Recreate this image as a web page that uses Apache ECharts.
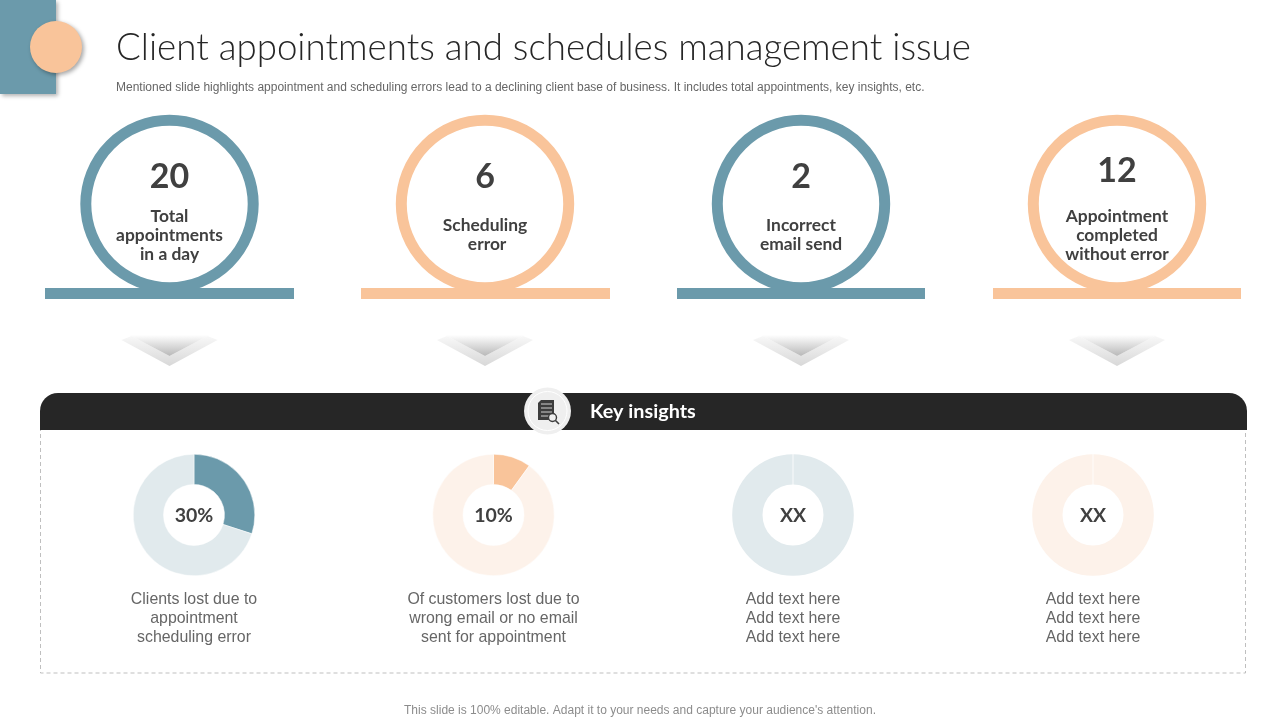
<!DOCTYPE html>
<html><head><meta charset="utf-8">
<style>html,body{margin:0;padding:0;background:#fff}#c{width:1280px;height:720px}</style>
<script src="https://cdn.jsdelivr.net/npm/echarts@6/dist/echarts.min.js"></script>
</head><body><div id="c"></div>
<script>
const TEAL='#6b9aab', PEACH='#f9c49a', TEAL_L='#e1eaed', PEACH_L='#fdf2ea';
const titleText='Client appointments and schedules management issue';
const subtitleText='Mentioned slide highlights appointment and scheduling errors lead to a declining client base of business. It includes total appointments, key insights, etc.';
const footerText="This slide is 100% editable. Adapt it to your needs and capture your audience's attention.";
const kpiValues=['20','6','2','12'];
const kpiLabels=['Total\nappointments\nin a day','Scheduling\n error','Incorrect\nemail send','Appointment\ncompleted\nwithout error'];
const kpiCenters=[169.5,485,801,1117];
const kpiValueY=[177,177,177,171];
const kpiLabelY=[235,234.5,234.5,235];
const donutCenterX=[194,493.5,793,1093];
const donutShares=[30,10,100,100];
const donutLabels=['30%','10%','XX','XX'];
const insightTexts=['Clients lost due to\nappointment\nscheduling error','Of customers lost due to\nwrong email or no email\nsent for appointment','Add text here\nAdd text here\nAdd text here','Add text here\nAdd text here\nAdd text here'];
const HEAD='"Lato","Open Sans",sans-serif', BODY='"Liberation Sans",Arial,sans-serif';

const g=[];
// corner decoration
g.push({type:'rect',shape:{x:0,y:0,width:56,height:94},style:{fill:TEAL,shadowBlur:4,shadowColor:'rgba(0,0,0,.3)',shadowOffsetX:2,shadowOffsetY:2}});
g.push({type:'circle',shape:{cx:56,cy:47,r:26},style:{fill:PEACH,shadowBlur:4,shadowColor:'rgba(0,0,0,.35)',shadowOffsetX:2,shadowOffsetY:2}});
g.push({type:'text',x:116,y:48,style:{text:titleText,font:'300 36.7px '+HEAD,fill:'#262626',textVerticalAlign:'middle'}});
g.push({type:'text',x:116,y:87.5,style:{text:subtitleText,font:'12px '+BODY,fill:'#666',textVerticalAlign:'middle'}});
// KPI rings
kpiCenters.forEach((cx,i)=>{
  const col=i%2?PEACH:TEAL;
  g.push({type:'circle',shape:{cx:cx,cy:204,r:83.7},style:{fill:'#fff',stroke:col,lineWidth:11}});
  g.push({type:'rect',shape:{x:Math.round(cx-124.5),y:288,width:i>=2?248:249,height:11},style:{fill:col}});
  g.push({type:'text',x:cx,y:kpiValueY[i],style:{text:kpiValues[i],font:'bold 34px '+HEAD,fill:'#404040',align:'center',verticalAlign:'middle'}});
  g.push({type:'text',x:cx,y:kpiLabelY[i],style:{text:kpiLabels[i],font:'bold 17.4px '+HEAD,lineHeight:19,fill:'#404040',align:'center',verticalAlign:'middle'}});
  // chevrons
  const grad=(a,b)=>({type:'linear',x:0,y:0,x2:0,y2:1,colorStops:[{offset:0,color:a},{offset:1,color:b}]});
  g.push({type:'polygon',shape:{points:[[cx-48,340],[cx,366],[cx+48,340],[cx+38,336],[cx,356],[cx-38,336]]},style:{fill:grad('#f8f8f8','#d8d8d8')}});
  g.push({type:'polygon',shape:{points:[[cx-40,335],[cx+40,335],[cx,356]]},style:{fill:grad('#ffffff','#b8b8b8')}});
});
// insight panel
g.push({type:'rect',shape:{x:40.5,y:420,width:1205,height:253},style:{fill:'#fff',stroke:'#bfbfbf',lineWidth:1,lineDash:[4,3]}});
g.push({type:'rect',shape:{x:40,y:393,width:1207,height:37,r:[18,18,0,0]},style:{fill:'#262626'}});
g.push({type:'circle',shape:{cx:547.5,cy:411,r:23.5},style:{fill:'#efefef'}});
g.push({type:'circle',shape:{cx:547.5,cy:411,r:19.5},style:{fill:'#efefef',stroke:'#fff',lineWidth:1}});
g.push({type:'polygon',shape:{points:[[541,400],[554,400],[554,420],[538,420],[538,403]]},style:{fill:'#3c3c3c'}});
[[404],[408],[412],[416]].forEach(a=>g.push({type:'line',shape:{x1:541,y1:a[0],x2:552,y2:a[0]},style:{stroke:'#cfcfcf',lineWidth:1}}));
g.push({type:'circle',shape:{cx:552.5,cy:417.5,r:4},style:{fill:'#efefef',stroke:'#3c3c3c',lineWidth:1.4}});
g.push({type:'line',shape:{x1:555.5,y1:420.5,x2:559,y2:424},style:{stroke:'#3c3c3c',lineWidth:1.6}});
g.push({type:'text',x:590,y:412,style:{text:'Key insights',font:'bold 19.8px '+HEAD,fill:'#fff',verticalAlign:'middle'}});
// captions
donutCenterX.forEach((cx,i)=>{
  g.push({type:'text',x:cx,y:618.5,style:{text:insightTexts[i],font:'15.9px '+BODY,lineHeight:19,fill:'#666',align:'center',verticalAlign:'middle'}});
  if(donutShares[i]===100) g.push({type:'line',z:10,shape:{x1:cx,y1:454,x2:cx,y2:485},style:{stroke:'#fff',lineWidth:.8}});
});
g.push({type:'text',x:640,y:710.5,style:{text:footerText,font:'12px '+BODY,fill:'#8c8c8c',align:'center',verticalAlign:'middle'}});

const series=donutCenterX.map((cx,i)=>{
  const col=i%2?PEACH:TEAL, light=i%2?PEACH_L:TEAL_L, share=donutShares[i];
  return {type:'pie',silent:true,center:[cx,515],radius:[30.5,60.8],startAngle:90,clockwise:true,
    label:{show:true,position:'center',formatter:donutLabels[i],fontFamily:HEAD,fontWeight:'bold',fontSize:19.5,color:'#404040',offset:[0,1]},
    labelLine:{show:false},animation:false,
    itemStyle:{borderColor:'#fff',borderWidth:share===100?0:.5},
    data:share===100?[{value:100,itemStyle:{color:light}}]:[{value:share,itemStyle:{color:col}},{value:100-share,itemStyle:{color:light}}]};
});
const chart=echarts.init(document.getElementById('c'),null,{renderer:'canvas'});
chart.setOption({animation:false,backgroundColor:'#fff',graphic:{elements:g.map(e=>Object.assign({z:e.z||1},e))},series:series});
</script></body></html>
